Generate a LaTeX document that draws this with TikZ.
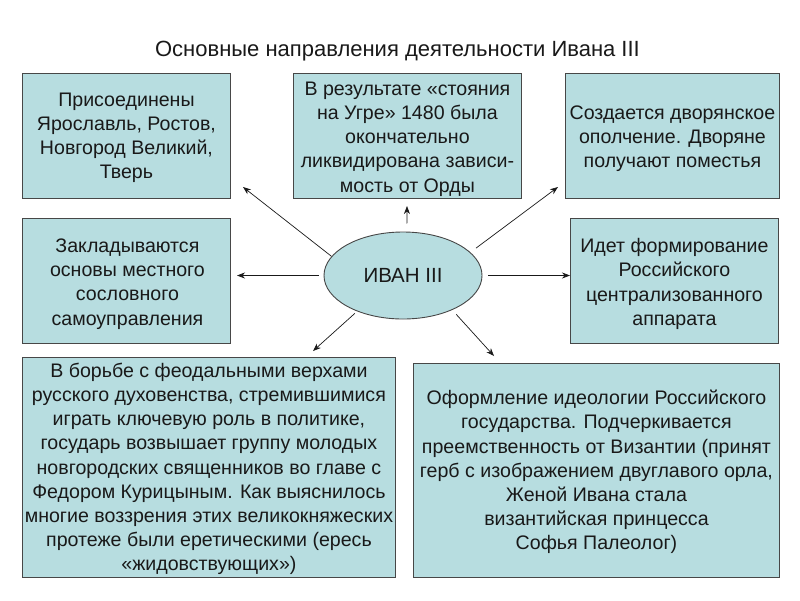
\documentclass[tikz,border=0pt]{standalone}
\usepackage{fontspec}
\setmainfont{Liberation Sans}
\usetikzlibrary{arrows.meta,shapes.geometric,calc}
\definecolor{boxfill}{RGB}{183,221,224}
\definecolor{ink}{RGB}{25,25,25}
\tikzset{
  box/.style={draw=ink!80, line width=0.9pt, fill=boxfill, inner sep=0pt, anchor=north west},
  txt/.style={align=center, text=ink, inner sep=0pt, font=\fontsize{19.6}{24.2}\selectfont},
  arr/.style={-{Stealth[length=8pt,width=6pt]}, line width=0.7pt, draw=ink},
}
\begin{document}
\begin{tikzpicture}[x=1pt,y=-1pt]
\useasboundingbox[fill=white] (0,0) rectangle (800,600);
\node[txt, font=\fontsize{22}{24}\selectfont] (title) at (397.5,51) {Основные направления деятельности Ивана III};
% boxes
\node[box, minimum width=208, minimum height=125] (b1) at (22,73) {};
\node[box, minimum width=228, minimum height=125] (b2) at (293,73) {};
\node[box, minimum width=214, minimum height=125] (b3) at (565,73) {};
\node[box, minimum width=208, minimum height=125] (b4) at (22,218) {};
\node[box, minimum width=208, minimum height=125] (b5) at (570,218) {};
\node[box, minimum width=373, minimum height=220] (b6) at (22,357) {};
\node[box, minimum width=366, minimum height=214] (b7) at (413,363) {};
% texts
\node[txt] (t1) at ($(b1.center)+(0,2)$) {Присоединены\\Ярославль, Ростов,\\Новгород Великий,\\Тверь};
\node[txt] (t2) at ($(b2.center)+(0,3)$) {В результате «стояния\\на Угре» 1480 была\\окончательно\\ликвидирована зависи-\\мость от Орды};
\node[txt] (t3) at ($(b3.center)+(0,3)$) {Создается дворянское\\ополчение. Дворяне\\получают поместья};
\node[txt] (t4) at ($(b4.center)+(1,3)$) {Закладываются\\основы местного\\сословного\\самоуправления};
\node[txt] (t5) at ($(b5.center)+(0,3)$) {Идет формирование\\Российского\\централизованного\\аппарата};
\node[txt] (t6) at ($(b6.center)+(0,1.5)$) {В борьбе с феодальными верхами\\русского духовенства, стремившимися\\играть ключевую роль в политике,\\государь возвышает группу молодых\\новгородских священников во главе с\\Федором Курицыным. Как выяснилось\\многие воззрения этих великокняжеских\\протеже были еретическими (ересь\\«жидовствующих»)};
\node[txt] (t7) at ($(b7.center)+(0,1.5)$) {Оформление идеологии Российского\\государства. Подчеркивается\\преемственность от Византии (принят\\герб с изображением двуглавого орла,\\Женой Ивана стала\\византийская принцесса\\Софья Палеолог)};
% centre
\node[ellipse, draw=ink!80, line width=0.9pt, fill=boxfill, minimum width=158, minimum height=87, inner sep=0pt,
      font=\fontsize{20.5}{22}\selectfont, text=ink] (iv) at (403,275.5) {ИВАН III};
% arrow tips
\coordinate (tTL) at (243,187);
\coordinate (tUp) at (407,206);
\coordinate (tTR) at (558,187);
\coordinate (tL) at (237,275.5);
\coordinate (tBL) at (313,351);
\coordinate (tBR) at (494,356);
\draw[arr] (iv.165) -- (tTL);
\draw[arr, shorten <=8pt] (iv.85) -- (tUp);
\draw[arr, shorten <=7pt] (iv.19) -- (tTR);
\draw[arr, shorten <=5pt] (iv.west) -- (tL);
\draw[arr, shorten <=6pt] (iv.east) -- (iv.east -| b5.west);
\draw[arr, shorten <=3pt] (iv.218) -- (tBL);
\draw[arr, shorten <=6pt] (iv.325) -- (tBR);
\end{tikzpicture}
\end{document}
